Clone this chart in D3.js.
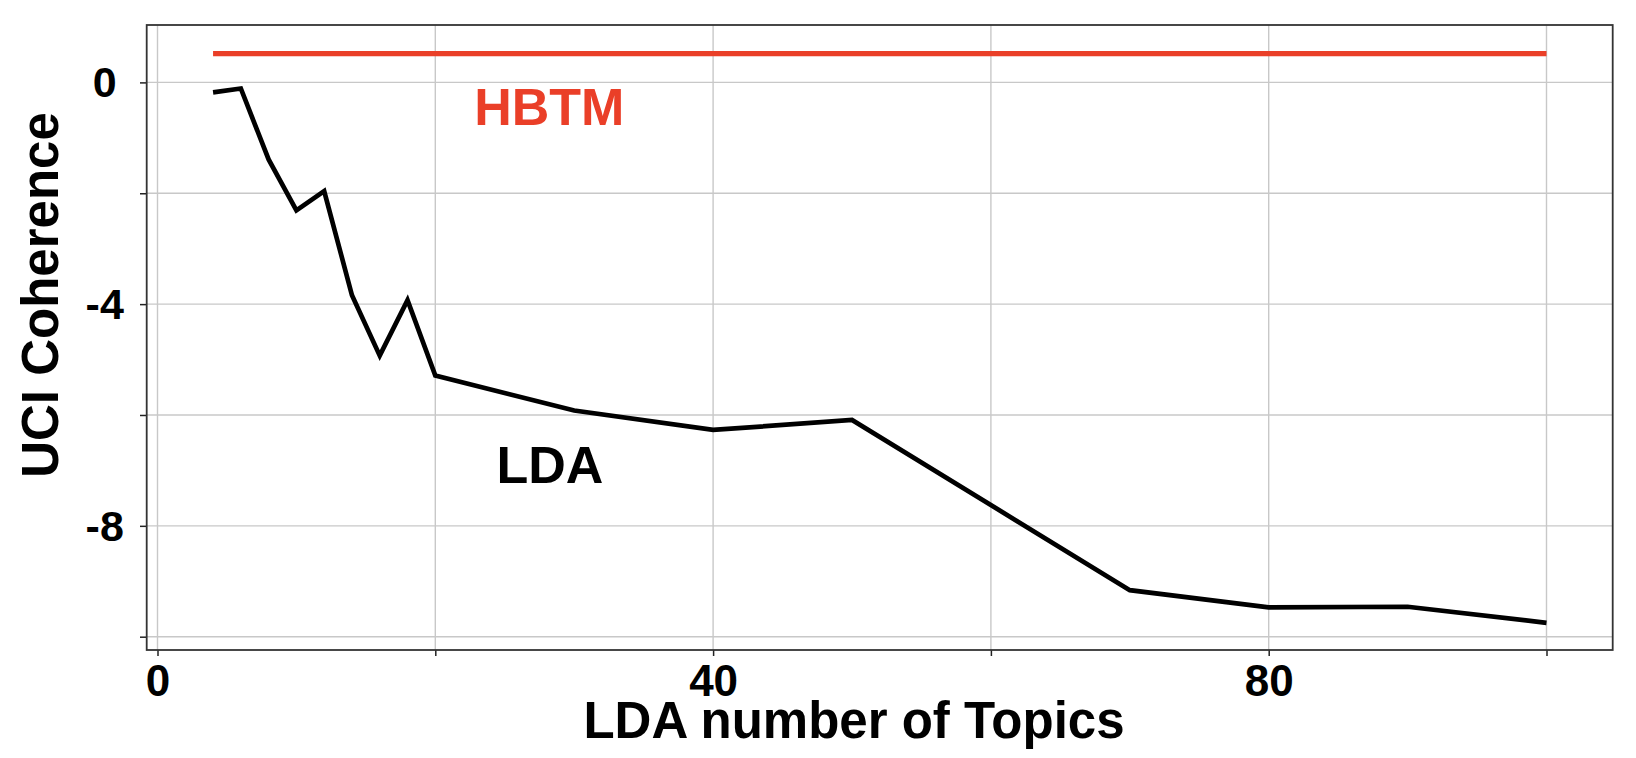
<!DOCTYPE html>
<html>
<head>
<meta charset="utf-8">
<script src="https://cdn.jsdelivr.net/npm/d3@7"></script>
<style>
  body { margin: 0; background: #fff; }
  text { font-family: "Liberation Sans", Arial, Helvetica, sans-serif; font-weight: bold; }
</style>
</head>
<body>
<div id="area"></div>
<script>
// LDA coherence per number of topics, HBTM is a flat reference
const topics = [4, 6, 8, 10, 12, 14, 16, 18, 20, 30, 40, 50, 70, 80, 90, 100]
const ldaScores = [-0.18, -0.11, -1.39, -2.31, -1.96, -3.84, -4.93, -3.93, -5.29, -5.92, -6.27, -6.09, -9.16, -9.47, -9.46, -9.75]
const hbtmScore = 0.52
const hbtmRange = [4, 100]
const xTicks = [0, 20, 40, 60, 80, 100]
const xLabels = ['0', '', '40', '', '80', '']
const yTicks = [0, -2, -4, -6, -8, -10]
const yLabels = ['0', '', '-4', '', '-8', '']

const W = 1636, H = 758
const red = '#ea3f28'

const svg = d3.select('#area')
            .append('svg')
            .attr('width', W)
            .attr('height', H)

const xScale = d3.scaleLinear()
              .domain([0, 100])
              .range([157.5, 1546.5])
const yScale = d3.scaleLinear()
              .domain([0, -10])
              .range([82.4, 636.7])

const fLeft = 146.7, fRight = 1612.7, fTop = 25, fBottom = 650

// grid
svg.selectAll('.vgrid')
    .data(xTicks)
    .enter()
    .append('line')
    .attr('x1', d => xScale(d))
    .attr('x2', d => xScale(d))
    .attr('y1', fTop)
    .attr('y2', fBottom)
    .attr('stroke', '#c8c8c8')
    .attr('stroke-width', 1.4)

svg.selectAll('.hgrid')
    .data(yTicks)
    .enter()
    .append('line')
    .attr('x1', fLeft)
    .attr('x2', fRight)
    .attr('y1', d => yScale(d))
    .attr('y2', d => yScale(d))
    .attr('stroke', '#c8c8c8')
    .attr('stroke-width', 1.4)

// axes (ticks outside the frame)
const xAxis = d3.axisBottom(xScale)
              .tickValues(xTicks)
              .tickSize(6)
              .tickFormat((d, i) => xLabels[i])
const gx = svg.append('g')
    .attr('transform', `translate(0,${fBottom})`)
    .call(xAxis)
gx.select('.domain').remove()
gx.selectAll('line').attr('stroke', '#222').attr('stroke-width', 1.5)
gx.selectAll('text')
    .attr('y', 46)
    .attr('dy', 0)
    .attr('fill', '#000')
    .style('font-size', '44px')

const yAxis = d3.axisLeft(yScale)
              .tickValues(yTicks)
              .tickSize(6.7)
              .tickFormat((d, i) => yLabels[i])
const gy = svg.append('g')
    .attr('transform', `translate(${fLeft},0)`)
    .call(yAxis)
gy.select('.domain').remove()
gy.selectAll('line').attr('stroke', '#222').attr('stroke-width', 1.5)
gy.selectAll('text')
    .attr('x', -42)
    .attr('dy', '0.33em')
    .attr('text-anchor', 'middle')
    .attr('fill', '#000')
    .style('font-size', '43px')

// frame
svg.append('rect')
    .attr('x', fLeft)
    .attr('y', fTop)
    .attr('width', fRight - fLeft)
    .attr('height', fBottom - fTop)
    .attr('fill', 'none')
    .attr('stroke', '#333')
    .attr('stroke-width', 1.8)

// HBTM line
svg.append('line')
    .attr('x1', xScale(hbtmRange[0]))
    .attr('x2', xScale(hbtmRange[1]))
    .attr('y1', yScale(hbtmScore))
    .attr('y2', yScale(hbtmScore))
    .attr('stroke', red)
    .attr('stroke-width', 5.3)

// LDA line
const line = d3.line()
              .x((d, i) => xScale(topics[i]))
              .y(d => yScale(d))
svg.append('path')
    .datum(ldaScores)
    .attr('d', line)
    .attr('fill', 'none')
    .attr('stroke', '#000')
    .attr('stroke-width', 4.7)
    .attr('stroke-linejoin', 'miter')

// series labels
svg.append('text')
    .attr('x', xScale(22.8))
    .attr('y', yScale(-0.77))
    .attr('fill', red)
    .style('font-size', '52px')
    .text('HBTM')

svg.append('text')
    .attr('x', xScale(24.4))
    .attr('y', yScale(-7.22))
    .attr('fill', '#000')
    .style('font-size', '52px')
    .text('LDA')

// axis titles
svg.append('text')
    .attr('x', 854)
    .attr('y', 738)
    .attr('text-anchor', 'middle')
    .style('font-size', '51px')
    .text('LDA number of Topics')

svg.append('text')
    .attr('transform', 'translate(58,295) rotate(-90)')
    .attr('text-anchor', 'middle')
    .style('font-size', '51px')
    .text('UCI Coherence')
</script>
</body>
</html>
